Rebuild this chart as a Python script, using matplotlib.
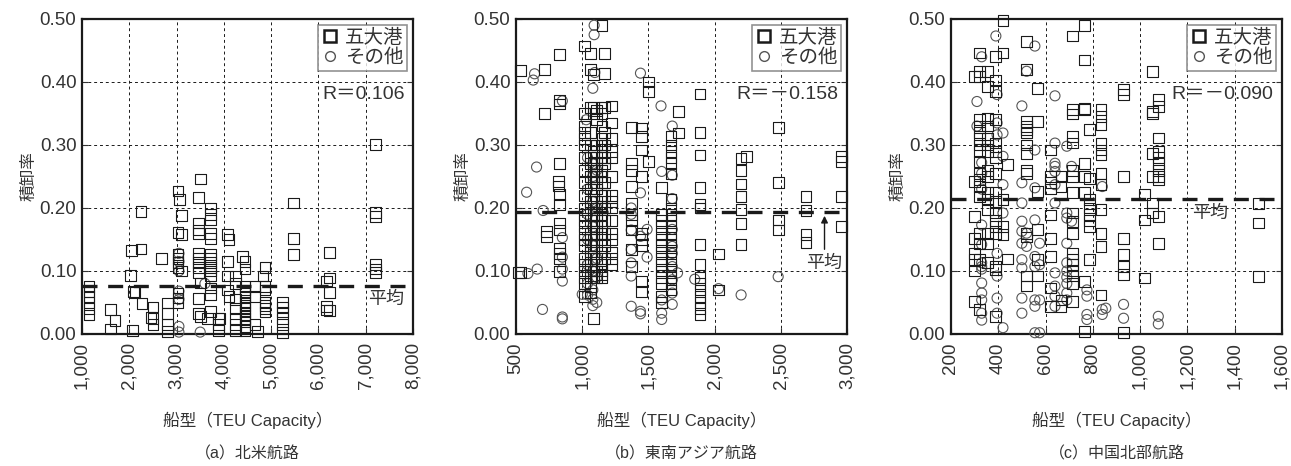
import matplotlib.pyplot as plt
from matplotlib.lines import Line2D
from matplotlib.ticker import FuncFormatter

plt.rcParams['font.family'] = ['Liberation Sans', 'Noto Sans CJK JP']

# (a) 北米航路: (TEU, [積卸率 ...]) columns
na_port = [
    (1150, [0.075, 0.068, 0.06, 0.05, 0.04, 0.03]),
    (1600, [0.039, 0.008]), (1700, [0.021]),
    (2030, [0.093]), (2070, [0.005]), (2040, [0.132]),
    (2090, [0.068]), (2120, [0.066]), (2250, [0.135, 0.194]), (2270, [0.048]),
    (2460, [0.026]), (2500, [0.043, 0.025, 0.015]), (2680, [0.12]),
    (2810, [0.049, 0.033, 0.015, 0.004]),
    (3030, [0.227, 0.161, 0.126, 0.12, 0.113, 0.105, 0.065, 0.057, 0.05]),
    (3060, [0.213]), (3110, [0.188, 0.158, 0.1]),
    (3470, [0.217, 0.176, 0.165, 0.16, 0.128, 0.12, 0.113, 0.105, 0.097, 0.056, 0.033]),
    (3500, [0.246, 0.081, 0.028]),
    (3710, [0.2, 0.19, 0.181, 0.16, 0.152, 0.126, 0.12, 0.113, 0.105, 0.1, 0.092,
            0.073, 0.062, 0.036]),
    (3660, [0.025]), (3880, [0.025, 0.015, 0.005]), (3920, [0.025]),
    (4070, [0.158, 0.115, 0.092, 0.07]), (4110, [0.15, 0.06]),
    (4240, [0.092, 0.08, 0.055, 0.04, 0.025, 0.015, 0.005]), (4400, [0.123]),
    (4450, [0.115, 0.103, 0.075, 0.07, 0.065, 0.06, 0.05, 0.045, 0.04, 0.035,
            0.03, 0.025, 0.02, 0.012, 0.005]),
    (4660, [0.015, 0.075, 0.06]), (4715, [0.004]), (4830, [0.092]),
    (4870, [0.105, 0.075, 0.07, 0.05, 0.045, 0.04, 0.035]),
    (5240, [0.05, 0.043, 0.035, 0.025, 0.015, 0.002]),
    (5480, [0.208, 0.151, 0.126]),
    (6170, [0.084, 0.044, 0.038]), (6240, [0.129, 0.089, 0.066, 0.037]),
    (7210, [0.301, 0.193, 0.187, 0.11, 0.103, 0.097]),
]
na_other = [
    (3050, [0.128, 0.115, 0.1, 0.068, 0.055, 0.012, 0.003]),
    (3500, [0.003]), (3600, [0.08]),
]

# (b) 東南アジア航路
sea_port = [
    (535, [0.418, 0.097]), (520, [0.097]), (715, [0.42, 0.35]), (730, [0.163, 0.155]),
    (830, [0.444, 0.37, 0.365, 0.27, 0.221, 0.205, 0.176, 0.165, 0.136, 0.128, 0.12, 0.099]),
    (820, [0.242, 0.235]),
    (1020, [0.457, 0.35, 0.33, 0.32, 0.31, 0.30, 0.28, 0.26, 0.24, 0.22, 0.2, 0.19, 0.18,
            0.17, 0.16, 0.15, 0.14, 0.12, 0.11, 0.1, 0.09, 0.08, 0.06]),
    (1060, [0.445, 0.42, 0.36, 0.32, 0.3, 0.28, 0.27, 0.25, 0.23, 0.21, 0.2, 0.18, 0.16,
            0.15, 0.14, 0.13, 0.12, 0.11, 0.1, 0.09, 0.075, 0.065]),
    (1085, [0.412, 0.36, 0.35, 0.29, 0.27, 0.26, 0.25, 0.24, 0.22, 0.2, 0.19, 0.17, 0.15,
            0.13, 0.12, 0.1, 0.09, 0.025]),
    (1110, [0.355, 0.34, 0.3, 0.28, 0.27, 0.26, 0.25, 0.24, 0.23, 0.21, 0.2, 0.19, 0.18,
            0.17, 0.16, 0.14, 0.12, 0.1, 0.09]),
    (1150, [0.49, 0.36, 0.35, 0.33, 0.31, 0.3, 0.29, 0.28, 0.26, 0.25, 0.24, 0.22, 0.21,
            0.2, 0.19, 0.17, 0.16, 0.15, 0.13, 0.11, 0.1, 0.095, 0.09]),
    (1170, [0.445, 0.413, 0.36, 0.32, 0.3, 0.28, 0.27, 0.24, 0.22, 0.2, 0.18, 0.16, 0.14, 0.12]),
    (1220, [0.362, 0.335, 0.31, 0.29, 0.28, 0.25, 0.22, 0.21, 0.2, 0.18, 0.16, 0.15, 0.13,
            0.12, 0.11]),
    (1375, [0.328, 0.27, 0.26, 0.234, 0.207, 0.19, 0.18, 0.165, 0.134, 0.107]),
    (1450, [0.327, 0.313, 0.292, 0.25, 0.16, 0.15, 0.14, 0.083, 0.067]),
    (1500, [0.4, 0.385, 0.274]),
    (1600, [0.232, 0.19, 0.18, 0.17, 0.16, 0.15, 0.14, 0.13, 0.12, 0.11, 0.1, 0.09, 0.08,
            0.06, 0.05]),
    (1670, [0.313, 0.3, 0.29, 0.28, 0.27, 0.255, 0.213, 0.2, 0.19, 0.18, 0.17, 0.16, 0.15,
            0.14, 0.13, 0.12, 0.11, 0.1, 0.09, 0.08, 0.07]),
    (1730, [0.353, 0.319]),
    (1890, [0.381, 0.32, 0.284, 0.232, 0.205, 0.2, 0.142, 0.11, 0.09, 0.08, 0.07, 0.06,
            0.05, 0.04, 0.03]),
    (2030, [0.127, 0.07]),
    (2200, [0.279, 0.26, 0.238, 0.218, 0.197, 0.175, 0.142]), (2240, [0.282]),
    (2480, [0.328, 0.24, 0.181, 0.165]),
    (2690, [0.218, 0.196, 0.158, 0.145]),
    (2960, [0.282, 0.274, 0.218, 0.171]),
]
sea_other = [
    (580, [0.225]), (655, [0.265]), (630, [0.403]), (640, [0.413]), (705, [0.196]),
    (660, [0.103]), (590, [0.096]), (700, [0.039]),
    (850, [0.37, 0.153, 0.122, 0.103, 0.084, 0.027, 0.024]),
    (1090, [0.49, 0.475]), (1095, [0.415]), (1080, [0.39]), (1030, [0.34]),
    (1040, [0.28, 0.23, 0.19, 0.15, 0.11, 0.08, 0.062]),
    (1080, [0.27, 0.25, 0.21, 0.17, 0.14, 0.1, 0.07, 0.055, 0.045]),
    (1110, [0.26, 0.2, 0.12, 0.09, 0.05]), (1000, [0.063]),
    (1370, [0.2, 0.19, 0.165, 0.134, 0.113, 0.092, 0.044]),
    (1440, [0.414, 0.224, 0.155, 0.036, 0.032]),
    (1490, [0.166, 0.122]),
    (1600, [0.258, 0.054, 0.033, 0.023]), (1595, [0.362]),
    (1680, [0.33, 0.252, 0.215, 0.166, 0.139, 0.128, 0.107, 0.086, 0.065, 0.047]),
    (1720, [0.097]), (1850, [0.087]), (2030, [0.072]), (2200, [0.062]), (2480, [0.091]),
]

# (c) 中国北部航路
cn_port = [
    (300, [0.409, 0.242, 0.187, 0.152, 0.128, 0.118, 0.1, 0.052]),
    (322, [0.446, 0.417, 0.409, 0.34, 0.33, 0.32, 0.31, 0.3, 0.29, 0.274, 0.255, 0.245,
           0.234, 0.218, 0.16, 0.144, 0.118, 0.039]),
    (355, [0.417, 0.393, 0.343, 0.33, 0.31, 0.3, 0.29, 0.26, 0.25, 0.224, 0.213, 0.197,
           0.16, 0.144, 0.113]),
    (388, [0.44, 0.403, 0.385, 0.34, 0.303, 0.29, 0.28, 0.255, 0.224, 0.21, 0.192, 0.18,
           0.17, 0.16, 0.107, 0.102, 0.028]),
    (420, [0.497, 0.446, 0.213, 0.171, 0.158]), (440, [0.269, 0.119]),
    (520, [0.464, 0.42, 0.337, 0.329, 0.324, 0.319, 0.3, 0.287, 0.26, 0.255, 0.16, 0.154,
           0.092, 0.076]),
    (565, [0.39, 0.337, 0.226, 0.166, 0.118, 0.092]),
    (620, [0.292, 0.25, 0.24, 0.23, 0.189, 0.152, 0.123, 0.073, 0.044]),
    (665, [0.25, 0.234, 0.054, 0.044]),
    (715, [0.473, 0.356, 0.349, 0.313, 0.303, 0.26, 0.25, 0.224, 0.192, 0.179, 0.16, 0.128,
           0.118, 0.11, 0.1, 0.092, 0.08, 0.052]),
    (765, [0.49, 0.435, 0.358, 0.356, 0.27, 0.25, 0.224, 0.083, 0.004]),
    (785, [0.324, 0.247, 0.213, 0.2, 0.19, 0.18, 0.17, 0.118]),
    (835, [0.356, 0.345, 0.332, 0.303, 0.292, 0.284, 0.255, 0.237, 0.197, 0.16, 0.139, 0.062]),
    (930, [0.388, 0.38, 0.25, 0.152, 0.126, 0.107, 0.094, 0.002]),
    (1020, [0.221, 0.181, 0.089]),
    (1052, [0.417, 0.353, 0.35, 0.287, 0.25, 0.208, 0.192]),
    (1077, [0.372, 0.361, 0.311, 0.29, 0.28, 0.27, 0.26, 0.25, 0.245, 0.187, 0.144]),
    (1500, [0.207, 0.176, 0.091]),
]
cn_other = [
    (310, [0.369, 0.33]),
    (330, [0.44, 0.272, 0.255, 0.23, 0.173, 0.142, 0.113, 0.107, 0.103, 0.081, 0.065,
           0.054, 0.033, 0.022]),
    (390, [0.473]), (395, [0.38, 0.335, 0.316, 0.128, 0.092, 0.057, 0.033]),
    (420, [0.319, 0.282, 0.237, 0.192, 0.01]),
    (500, [0.362, 0.24, 0.208, 0.179, 0.163, 0.144, 0.118, 0.105, 0.057, 0.033]),
    (520, [0.417, 0.16, 0.139]),
    (555, [0.457, 0.292, 0.232, 0.181, 0.123, 0.107, 0.054, 0.044, 0.002]),
    (575, [0.144, 0.11, 0.054, 0.002]),
    (640, [0.378, 0.303, 0.271, 0.266, 0.258, 0.237, 0.208, 0.097, 0.076, 0.06, 0.044]),
    (690, [0.298, 0.192, 0.184, 0.144, 0.113, 0.1, 0.09, 0.08, 0.065, 0.054]),
    (710, [0.266, 0.179]),
    (775, [0.07, 0.06, 0.031, 0.023]),
    (840, [0.234, 0.039, 0.031]), (855, [0.041]),
    (930, [0.047, 0.025]), (1077, [0.028, 0.016]),
]

x_limits = [(1000, 8000), (500, 3000), (200, 1600)]
x_steps = [1000, 500, 200]
means = [0.076, 0.194, 0.214]
r_labels = ['R＝0.106', 'R＝－0.158', 'R＝－0.090']
subtitles = ['（a）北米航路', '（b）東南アジア航路', '（c）中国北部航路']

TXT = '#333333'


def flatten(cols):
    xs, ys = [], []
    for x, vals in cols:
        xs += [x] * len(vals)
        ys += vals
    return xs, ys


fig = plt.figure(figsize=(12.91, 4.66), dpi=100)
lefts = [0.0635, 0.3997, 0.7366]
panels = [(na_port, na_other), (sea_port, sea_other), (cn_port, cn_other)]

for i, (port, other) in enumerate(panels):
    ax = fig.add_axes([lefts[i], 0.2833, 0.2564, 0.676])
    lo, hi = x_limits[i]

    ox, oy = flatten(other)
    px, py = flatten(port)
    ax.scatter(ox, oy, marker='o', s=52, facecolors='none', edgecolors='#555555',
               linewidths=0.8, zorder=3, clip_on=False)
    ax.scatter(px, py, marker='s', s=60, facecolors='none', edgecolors='#1a1a1a',
               linewidths=0.8, zorder=3, clip_on=False)

    ax.axhline(means[i], color='#1a1a1a', lw=2.4, ls=(0, (4.5, 3.2)), zorder=4)

    ax.set_xlim(lo, hi)
    ax.set_ylim(0, 0.5)
    ax.set_xticks(range(lo, hi + 1, x_steps[i]))
    ax.set_yticks([0, 0.1, 0.2, 0.3, 0.4, 0.5])
    ax.xaxis.set_major_formatter(FuncFormatter(lambda v, p: f'{int(v):,}'))
    ax.yaxis.set_major_formatter(FuncFormatter(lambda v, p: f'{v:.2f}'))
    ax.tick_params(axis='x', labelrotation=90, labelsize=13.5, colors=TXT,
                   direction='in', length=4, pad=6)
    ax.tick_params(axis='y', labelsize=13.5, colors=TXT, direction='in', length=4,
                   right=True, pad=4)
    ax.grid(True, color='#1a1a1a', lw=0.7, ls=(0, (3, 3)))
    ax.set_axisbelow(True)
    for sp in ax.spines.values():
        sp.set_linewidth(1.6)
        sp.set_color('#1a1a1a')

    ax.set_ylabel('積卸率', fontsize=12, color=TXT, labelpad=2)
    ax.text(0.5, -0.275, '船型（TEU Capacity）', transform=ax.transAxes,
            ha='center', va='center', fontsize=12, color=TXT)
    ax.text(0.5, -0.38, subtitles[i], transform=ax.transAxes,
            ha='center', va='center', fontsize=11.5, color=TXT)

    handles = [
        Line2D([], [], marker='s', ls='none', markersize=8, markerfacecolor='none',
               markeredgecolor='#1a1a1a', markeredgewidth=1.8),
        Line2D([], [], marker='o', ls='none', markersize=7, markerfacecolor='none',
               markeredgecolor='#555555', markeredgewidth=1.0),
    ]
    leg = ax.legend(handles, ['五大港', 'その他'], loc='upper right', fontsize=14,
                    frameon=True, fancybox=False, borderpad=0.2, labelspacing=0.12,
                    handletextpad=0.3, handlelength=0.9, borderaxespad=0.3,
                    labelcolor=TXT)
    leg.get_frame().set_edgecolor('#777777')
    leg.get_frame().set_linewidth(1.2)

    ax.text(0.975, 0.76, r_labels[i], transform=ax.transAxes, ha='right',
            va='center', fontsize=14, color=TXT, zorder=5)

# labels for the mean lines
axes = fig.axes
axes[0].text(7440, 0.054, '平均', ha='center', va='center', fontsize=13, color=TXT)
axes[1].annotate('', xy=(2830, 0.192), xytext=(2830, 0.13),
                 arrowprops=dict(arrowstyle='-|>', color='#1a1a1a', lw=1.0,
                                 mutation_scale=10))
axes[1].text(2830, 0.112, '平均', ha='center', va='center', fontsize=13, color=TXT)
axes[2].text(1295, 0.192, '平均', ha='center', va='center', fontsize=13, color=TXT)

fig.savefig('out.png', dpi=100)
